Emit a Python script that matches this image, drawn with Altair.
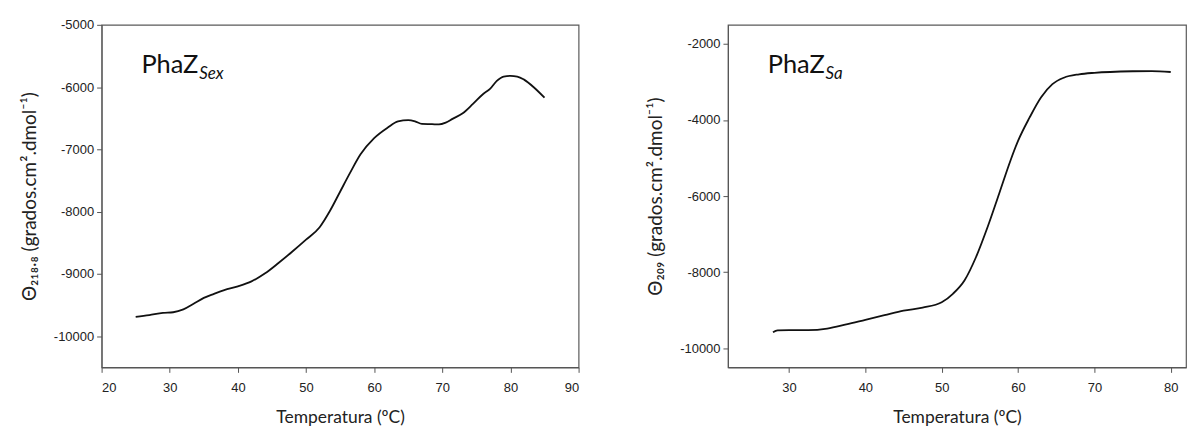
import altair as alt
import pandas as pd

# PhaZ Sex curve
sex_temp = [25, 27, 29, 30.5, 32, 33.5, 35, 36.5, 38, 40, 42, 44, 46, 48, 50, 52, 53.5,
            55, 56.5, 58, 60, 62, 63.5, 65, 66, 67, 68.5, 69.5, 70.5, 71.5, 73, 74.5,
            76, 77, 78, 79, 80, 81, 82, 83.5, 85]
sex_theta = [-9690, -9660, -9625, -9615, -9570, -9480, -9385, -9320, -9260, -9200, -9120,
             -8990, -8820, -8640, -8450, -8250, -7990, -7680, -7370, -7080, -6820, -6650,
             -6550, -6530, -6550, -6590, -6595, -6600, -6570, -6510, -6420, -6270, -6110,
             -6030, -5900, -5830, -5820, -5830, -5880, -6010, -6170]

# PhaZ Sa curve
sa_temp = [27.9, 28.5, 30, 32.5, 35, 37.5, 40, 42.5, 45, 47.5, 50, 51.5, 53, 54.5, 56,
           57.5, 59, 60, 61.5, 63, 64.5, 66, 68, 70, 75, 77.5, 80]
sa_theta = [-9580, -9530, -9520, -9520, -9480, -9370, -9250, -9130, -9010, -8930, -8790,
            -8560, -8210, -7600, -6820, -5950, -5070, -4550, -3940, -3410, -3060, -2890,
            -2800, -2760, -2720, -2715, -2740]

left_x_ticks = [20, 30, 40, 50, 60, 70, 80, 90]
left_y_ticks = [-10000, -9000, -8000, -7000, -6000, -5000]
right_x_ticks = [30, 40, 50, 60, 70, 80]
right_y_ticks = [-10000, -8000, -6000, -4000, -2000]

x_title = "Temperatura (ºC)"
left_y_title = "Θ₂₁₈.₈ (grados.cm².dmol⁻¹)"
right_y_title = "Θ₂₀₉ (grados.cm².dmol⁻¹)"

label_expr = "datum.value + ''"


def panel(temps, thetas, xdom, ydom, xt, yt, ytitle, name, sub, w, h):
    df = pd.DataFrame({"temp": temps, "theta": thetas})
    line = alt.Chart(df).mark_line(color="#111111", strokeWidth=1.8,
                                   interpolate="monotone").encode(
        x=alt.X("temp:Q",
                scale=alt.Scale(domain=xdom, nice=False, zero=False),
                axis=alt.Axis(values=xt, title=x_title, labelPadding=9,
                              titlePadding=14, titleFontSize=17.5)),
        y=alt.Y("theta:Q",
                scale=alt.Scale(domain=ydom, nice=False, zero=False),
                axis=alt.Axis(values=yt, title=ytitle, labelExpr=label_expr,
                              labelPadding=3, titlePadding=14,
                              titleFontSize=19)),
    )
    main = alt.Chart(pd.DataFrame({"t": [name]})).mark_text(
        align="left", baseline="alphabetic", font="Lato", fontSize=25.5,
        color="#111111").encode(x=alt.value(40), y=alt.value(48), text="t:N")
    subt = alt.Chart(pd.DataFrame({"t": [sub]})).mark_text(
        align="left", baseline="alphabetic", font="Lato", fontSize=17,
        fontStyle="italic", color="#111111").encode(
        x=alt.value(98), y=alt.value(54), text="t:N")
    return alt.layer(line, main, subt).properties(width=w, height=h)


left = panel(sex_temp, sex_theta, [20, 90], [-10500, -5000], left_x_ticks,
             left_y_ticks, left_y_title, "PhaZ", "Sex", 479, 344)
right = panel(sa_temp, sa_theta, [22, 82], [-10500, -1500], right_x_ticks,
              right_y_ticks, right_y_title, "PhaZ", "Sa", 460, 344)

chart = alt.hconcat(left, right, spacing=65).properties(
    padding={"top": 9, "bottom": 0, "left": 11, "right": 0},
    background="white",
).configure_view(
    stroke="#5a5a5a", strokeWidth=1.2
).configure_axis(
    grid=False,
    labelFont="Liberation Sans", labelFontSize=13, labelColor="#222222",
    tickColor="#555555", tickSize=5, domainColor="#555555",
    titleFont="Lato", titleFontSize=17, titleFontWeight="normal",
    titleColor="#222222",
)

chart.save("out.html", embed_options={"renderer": "svg", "actions": False})
